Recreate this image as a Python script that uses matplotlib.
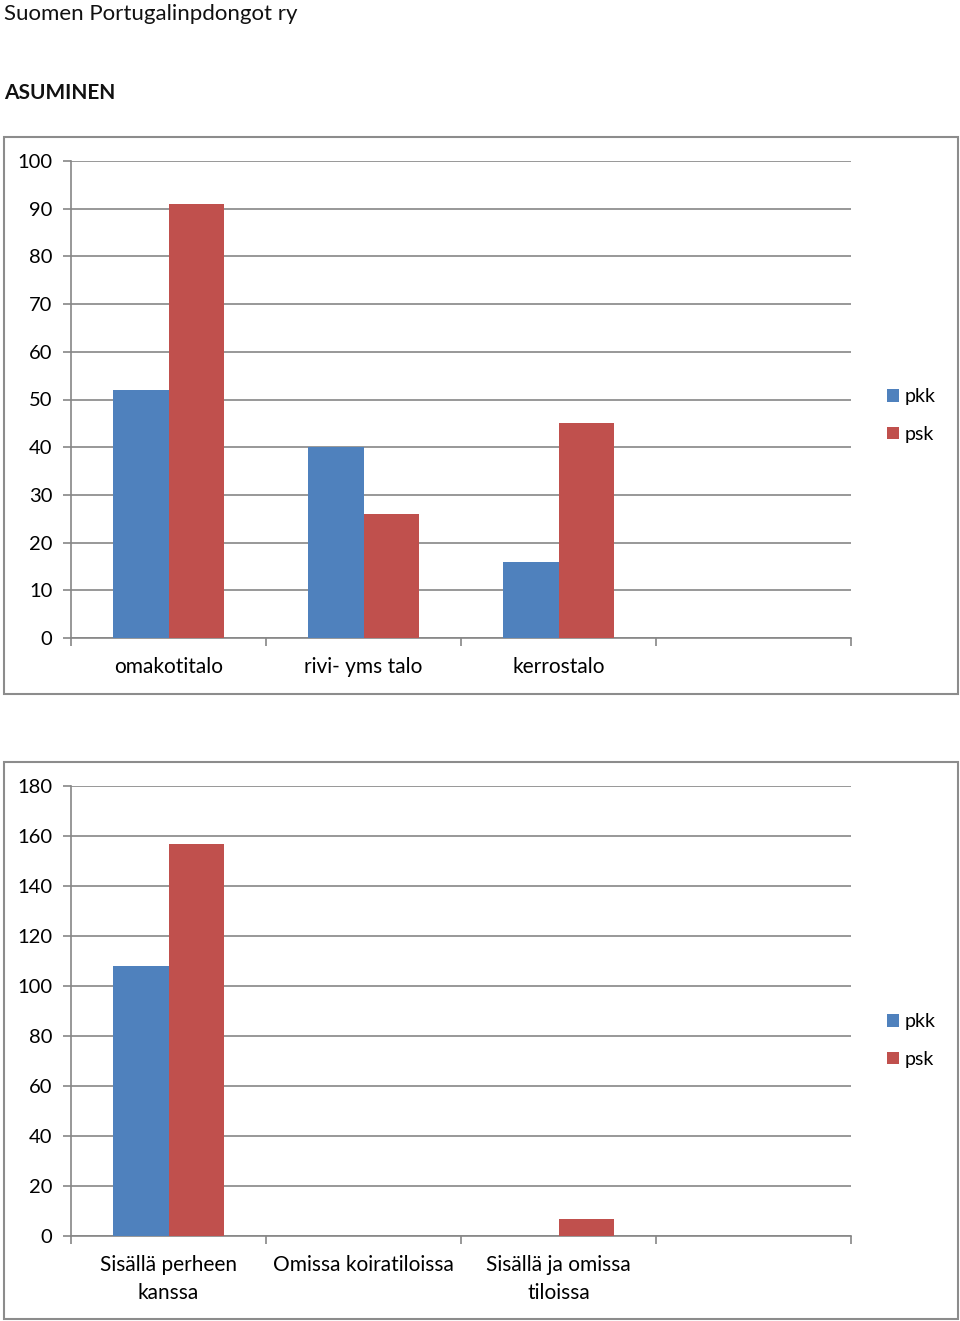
import matplotlib
matplotlib.use("Agg")
import matplotlib.pyplot as plt
from matplotlib.patches import Rectangle
import numpy as np

plt.rcParams['font.family'] = ['Lato', 'DejaVu Sans']

title_text = "Suomen Portugalinpdongot ry"
section_text = "ASUMINEN"
series_names = ["pkk", "psk"]
series_colors = ["#4F81BD", "#C0504D"]

cats1 = ["omakotitalo", "rivi- yms talo", "kerrostalo", ""]
pkk1 = [52, 40, 16, 0]
psk1 = [91, 26, 45, 0]
yticks1 = [0, 10, 20, 30, 40, 50, 60, 70, 80, 90, 100]

cats2 = ["Sisällä perheen\nkanssa", "Omissa koiratiloissa", "Sisällä ja omissa\ntiloissa", ""]
pkk2 = [108, 0, 0, 0]
psk2 = [157, 0, 7, 0]
yticks2 = [0, 20, 40, 60, 80, 100, 120, 140, 160, 180]

W, H = 960, 1321
fig = plt.figure(figsize=(W/100, H/100), dpi=100)

def px(x0, y0, x1, y1):
    return [x0/W, 1 - y1/H, (x1-x0)/W, (y1-y0)/H]

fig.text(4/W, 1-14/H, title_text, fontsize=16, va='center', ha='left', color='#111111')
fig.text(4/W, 1-93/H, section_text, fontsize=15, fontweight='bold', va='center', ha='left', color='#111111')

grid_c = '#868686'

def panel(frame, plot, cats, a, b, yt):
    fig.patches.append(Rectangle((frame[0]/W, 1-frame[3]/H), (frame[2]-frame[0])/W, (frame[3]-frame[1])/H,
                                 transform=fig.transFigure, fill=False, edgecolor='#8c8c8c', lw=1.5))
    ax = fig.add_axes(px(*plot))
    n = len(cats)
    x = np.arange(n)
    w = 1/3.5
    ax.bar(x - w/2, a, w, color=series_colors[0], label=series_names[0], zorder=3)
    ax.bar(x + w/2, b, w, color=series_colors[1], label=series_names[1], zorder=3)
    ax.set_xlim(-0.5, n-0.5)
    ax.set_ylim(yt[0], yt[-1])
    ax.set_yticks(yt)
    ax.set_yticklabels([str(v) for v in yt], fontsize=14.5)
    ax.yaxis.grid(True, color=grid_c, lw=1.2, zorder=0)
    ax.set_xticks(np.arange(n+1) - 0.5)
    ax.set_xticklabels([])
    ax.set_xticks(x, minor=True)
    ax.set_xticklabels(cats, minor=True, fontsize=15, linespacing=1.45)
    ax.tick_params(axis='x', which='minor', length=0, pad=14)
    ax.tick_params(axis='x', which='major', length=6, color=grid_c, width=1.2)
    ax.tick_params(axis='y', length=6, color=grid_c, width=1.2, pad=7.5)
    for s in ['top', 'right']:
        ax.spines[s].set_visible(False)
    for s in ['left', 'bottom']:
        ax.spines[s].set_color(grid_c)
        ax.spines[s].set_linewidth(1.2)
    ax.set_axisbelow(True)
    fc = (frame[1] + frame[3]) / 2
    ycen = (plot[3] - fc) / (plot[3] - plot[1])
    ax.legend(loc='center left', bbox_to_anchor=((887 - plot[0]) / (plot[2] - plot[0]), ycen),
              frameon=False, fontsize=14, handlelength=0.6, handleheight=0.6,
              handletextpad=0.3, labelspacing=1.05, borderaxespad=0, borderpad=0)
    return ax

ax1 = panel((4, 137, 958, 694), (71, 161, 851, 638), cats1, pkk1, psk1, yticks1)
ax2 = panel((4, 762, 958, 1319), (71, 786, 851, 1236), cats2, pkk2, psk2, yticks2)

fig.savefig("out.png", dpi=100)
